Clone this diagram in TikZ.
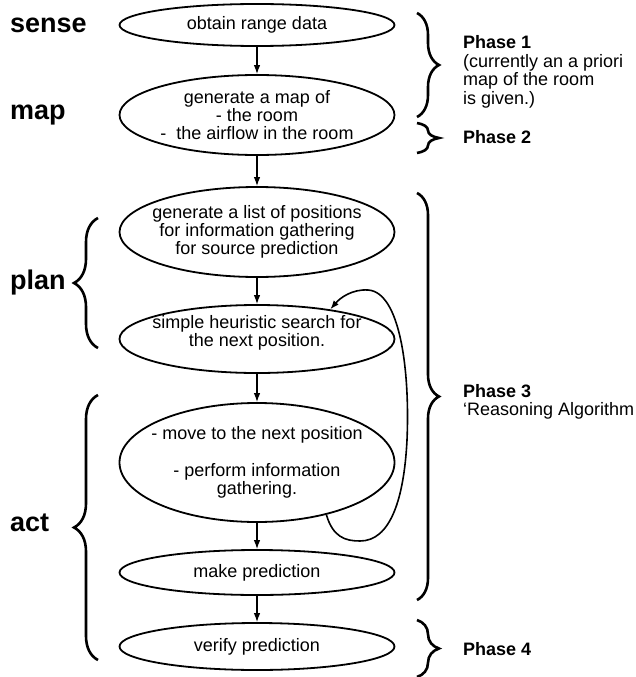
\documentclass[tikz,border=0pt]{standalone}
\usepackage{fontspec}
\setmainfont{Liberation Sans}
\usetikzlibrary{shapes.geometric,arrows.meta,decorations.pathreplacing}

\begin{document}
\begin{tikzpicture}[x=1pt, y=-1pt,
  every node/.style={inner sep=0pt},
  box/.style={ellipse, draw, line width=1.8pt, minimum width=275pt, inner sep=-10pt, align=center, font=\fontsize{18}{18.3}\selectfont},
  stage/.style={anchor=west, font=\fontsize{27}{30}\selectfont\bfseries},
  phase/.style={anchor=west, align=left, font=\fontsize{18}{18.6}\selectfont},
  arr/.style={-{Latex[length=9pt,width=6.5pt]}, line width=1.2pt},
  rbrace/.style={decorate, decoration={brace, amplitude=22pt}, line width=2.6pt},
  lbrace/.style={decorate, decoration={brace, amplitude=24pt}, line width=2.6pt}]
  \useasboundingbox (0,0) rectangle (636,677);
  \clip (0,0) rectangle (636,677);

  % flow
  \node (range) [box, minimum height=42pt] at (257, 25) {obtain range data};
  \node (mapgen) [box, minimum height=80pt] at (257, 115) {generate a map of\\- the room\\-\ \ the airflow in the room};
  \node (poslist) [box, minimum height=90pt] at (257, 232) {generate a list of positions\\for information gathering\\for source prediction};
  \node (search) [box, minimum height=68pt] at (257, 339) {simple heuristic search for\\the next position.\\[-2pt]};
  \node (move) [box, minimum height=119pt] at (257, 462.5) {- move to the next position\\[18pt]- perform information\\gathering.};
  \node (predict) [box, minimum height=45pt] at (257, 572.5) {make prediction};
  \node (verify) [box, minimum height=47pt] at (257, 646.5) {verify prediction};
  \draw[arr] (range) -- (mapgen);
  \draw[arr] (mapgen) -- (poslist);
  \draw[arr] (poslist) -- (search);
  \draw[arr] (search) -- (move);
  \draw[arr] (move) -- (predict);
  \draw[arr] (predict) -- (verify);
  \draw[arr, line width=1.6pt] (move.-37) .. controls (333,537) and (345,541) .. (360,541)
    .. controls (390,541) and (404,500) .. (407,440)
    .. controls (410,370) and (400,292) .. (368,290)
    .. controls (352,289) and (340,298) .. (search.22);

  % stages
  \node (sense) [stage] at (10, 25) {sense};
  \node (map) [stage] at (10, 115) {map};
  \node (plan) [stage] at (10, 283) {plan};
  \node (act) [stage] at (10, 523) {act};
  \draw[lbrace] (98, 348) -- (98, 218);
  \draw[lbrace] (98, 660) -- (98, 395);

  % phases
  \draw[rbrace] (417, 13) -- (417, 117);
  \draw[rbrace] (417, 123) -- (417, 153);
  \draw[rbrace] (417, 193) -- (417, 600);
  \draw[rbrace] (417, 620) -- (417, 677);
  \node (ph1) [phase] at (463, 72) {\textbf{Phase 1}\\(currently an a priori\\map of the room\\is given.)};
  \node (ph2) [phase] at (463, 137) {\textbf{Phase 2}};
  \node (ph3) [phase] at (463, 402) {\textbf{Phase 3}\\‘Reasoning Algorithm};
  \node (ph4) [phase] at (463, 649) {\textbf{Phase 4}};
\end{tikzpicture}
\end{document}
